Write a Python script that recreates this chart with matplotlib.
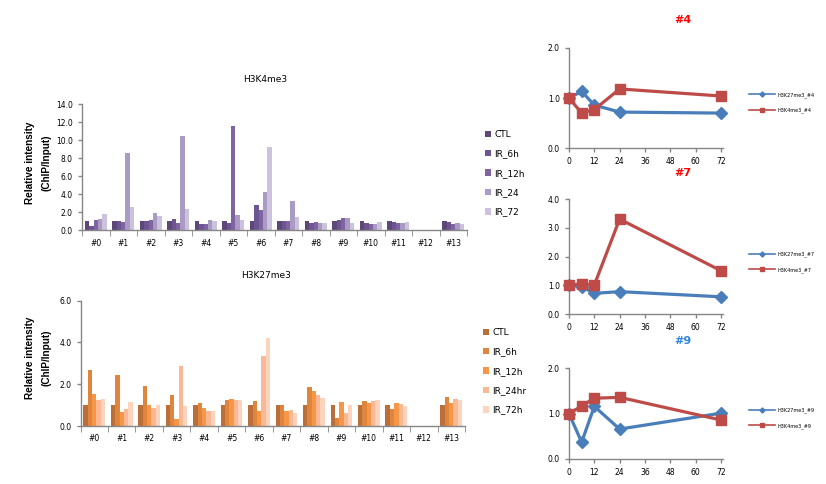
import matplotlib
matplotlib.use('Agg')
import matplotlib.pyplot as plt
import numpy as np

plt.rcParams['font.family'] = ['DejaVu Sans']

W, H = 826, 484

# ---- data
sites = ['#0', '#1', '#2', '#3', '#4', '#5', '#6', '#7', '#8', '#9', '#10', '#11', '#12', '#13']

k4_names = ['CTL', 'IR_6h', 'IR_12h', 'IR_24', 'IR_72']
k4_ctl = [1.0, 1.0, 1.0, 1.0, 1.0, 1.0, 1.0, 1.0, 1.0, 1.0, 1.0, 1.0, 0, 1.0]
k4_6h = [0.5, 1.0, 1.0, 1.25, 0.7, 0.8, 2.8, 1.0, 0.8, 1.15, 0.8, 0.9, 0, 0.9]
k4_12h = [1.1, 0.9, 1.1, 0.8, 0.7, 11.6, 2.25, 1.0, 0.9, 1.37, 0.7, 0.8, 0, 0.7]
k4_24 = [1.25, 8.6, 1.93, 10.5, 1.1, 1.7, 4.25, 3.25, 0.8, 1.37, 0.7, 0.8, 0, 0.8]
k4_72 = [1.8, 2.6, 1.62, 2.4, 1.0, 1.1, 9.25, 1.48, 0.8, 0.8, 0.9, 0.9, 0, 0.7]

k27_names = ['CTL', 'IR_6h', 'IR_12h', 'IR_24hr', 'IR_72h']
k27_ctl = [1.0, 1.0, 1.0, 1.0, 1.0, 1.0, 1.0, 1.0, 1.0, 1.0, 1.0, 1.0, 0, 1.0]
k27_6h = [2.68, 2.44, 1.92, 1.5, 1.1, 1.25, 1.2, 1.0, 1.86, 0.38, 1.19, 0.81, 0, 1.38]
k27_12h = [1.53, 0.67, 1.0, 0.35, 0.87, 1.3, 0.73, 0.73, 1.67, 1.14, 1.1, 1.1, 0, 1.1]
k27_24 = [1.24, 0.82, 0.87, 2.87, 0.73, 1.25, 3.35, 0.78, 1.48, 0.62, 1.19, 1.05, 0, 1.29]
k27_72 = [1.29, 1.15, 1.0, 0.97, 0.7, 1.25, 4.2, 0.63, 1.33, 1.0, 1.24, 0.95, 0, 1.24]

hours = [0, 6, 12, 24, 72]
k27_s4 = [1.0, 1.13, 0.86, 0.72, 0.7]
k4_s4 = [1.0, 0.7, 0.77, 1.18, 1.04]
k27_s7 = [1.0, 0.95, 0.72, 0.78, 0.6]
k4_s7 = [1.01, 1.05, 1.01, 3.31, 1.51]
k27_s9 = [1.0, 0.37, 1.16, 0.66, 1.01]
k4_s9 = [1.0, 1.17, 1.34, 1.36, 0.86]

purples = ['#5e4778', '#6c5591', '#8064a2', '#a99bc4', '#ccc2dd']
oranges = ['#b96f37', '#df853d', '#f79646', '#fab894', '#fcd3bd']
gray = '#868686'

fig = plt.figure(figsize=(W / 100, H / 100), dpi=100)


def ax_px(l, t, r, b):
    return fig.add_axes([l / W, 1 - b / H, (r - l) / W, (b - t) / H])


def style(ax):
    for s in ['top', 'right']:
        ax.spines[s].set_visible(False)
    for s in ['left', 'bottom']:
        ax.spines[s].set_color(gray)
        ax.spines[s].set_linewidth(1.0)
    ax.tick_params(colors=gray, labelcolor='black', labelsize=5.5, length=3, width=1)


def bar_panel(ax, series, names, colors, ymax, step):
    style(ax)
    x = np.arange(len(sites))
    w = 0.158
    for i, (vals, nm, c) in enumerate(zip(series, names, colors)):
        ax.bar(x + (i - 2) * w, vals, width=w, color=c, label=nm)
    ax.set_xlim(-0.5, len(sites) - 0.5)
    ax.set_ylim(0, ymax)
    ax.set_yticks(np.arange(0, ymax + 0.01, step))
    ax.set_yticklabels(['%.1f' % v for v in np.arange(0, ymax + 0.01, step)])
    ax.set_xticks(x)
    ax.set_xticklabels(sites)
    ax.set_xticks(np.arange(-0.5, len(sites)), minor=True)
    ax.tick_params(axis='x', which='major', length=0, pad=6)
    ax.tick_params(axis='x', which='minor', length=4, color=gray)


# ---- H3K4me3 bars
ax1 = ax_px(82, 104.3, 467, 230.3)
bar_panel(ax1, [k4_ctl, k4_6h, k4_12h, k4_24, k4_72], k4_names, purples, 14, 2)
fig.text(265 / W, 1 - 79 / H, 'H3K4me3', ha='center', va='center', fontsize=6.5)
ax1.legend(loc='upper left', bbox_to_anchor=(485 / W, 1 - 130 / H), bbox_transform=fig.transFigure,
           frameon=False, fontsize=6.5, handlelength=0.7, handleheight=0.7, handletextpad=0.3,
           labelspacing=1.15, borderaxespad=0, borderpad=0)

# ---- H3K27me3 bars
ax2 = ax_px(80.5, 300.7, 465, 426)
bar_panel(ax2, [k27_ctl, k27_6h, k27_12h, k27_24, k27_72], k27_names, oranges, 6, 2)
fig.text(266 / W, 1 - 275.5 / H, 'H3K27me3', ha='center', va='center', fontsize=6.5)
ax2.legend(loc='upper left', bbox_to_anchor=(483 / W, 1 - 328 / H), bbox_transform=fig.transFigure,
           frameon=False, fontsize=6.5, handlelength=0.7, handleheight=0.7, handletextpad=0.3,
           labelspacing=1.15, borderaxespad=0, borderpad=0)

for yc in [163, 358]:
    fig.text(30 / W, 1 - yc / H, 'Relative intensity', rotation=90, ha='center', va='center',
             fontsize=7.2, fontweight='bold', family='Liberation Sans')
    fig.text(46 / W, 1 - yc / H, '(ChIP/Input)', rotation=90, ha='center', va='center',
             fontsize=7.2, fontweight='bold', family='Liberation Sans')


# ---- line panels
def line_panel(box, k27, k4, ymax, title, tcolor, ty, site, ly):
    ax = ax_px(*box)
    style(ax)
    ax.plot(hours, k27, color='#4a7ebb', lw=2.3, marker='D', ms=6.5, label='H3K27me3_' + site,
            clip_on=False, zorder=3)
    ax.plot(hours, k4, color='#be4b48', lw=2.3, marker='s', ms=6.5, label='H3K4me3_' + site,
            clip_on=False, zorder=3)
    ax.set_xlim(0, 73)
    ax.set_xticks(np.arange(0, 73, 12))
    ax.set_ylim(0, ymax)
    ax.set_yticks(np.arange(0, ymax + 0.01, 1))
    ax.set_yticklabels(['%.1f' % v for v in np.arange(0, ymax + 0.01, 1)])
    fig.text(683 / W, 1 - ty / H, title, ha='center', va='center', fontsize=8,
             fontweight='bold', color=tcolor)
    leg = ax.legend(loc='upper left', bbox_to_anchor=(749 / W, 1 - ly / H), bbox_transform=fig.transFigure,
                    frameon=False, fontsize=3.5, handlelength=5.3, handletextpad=0.6,
                    labelspacing=2.0, borderaxespad=0, borderpad=0, markerscale=0.4)
    for ln in leg.get_lines():
        ln.set_linewidth(1.2)


line_panel((569, 47.7, 723, 148.3), k27_s4, k4_s4, 2, '#4', '#ff0000', 20, '#4', 92)
line_panel((569, 199.3, 723, 314), k27_s7, k4_s7, 4, '#7', '#ff0000', 172.5, '#7', 251.5)
line_panel((569, 368.3, 723, 459), k27_s9, k4_s9, 2, '#9', '#2e86de', 341, '#9', 407.5)

fig.savefig('out.png', dpi=100)
